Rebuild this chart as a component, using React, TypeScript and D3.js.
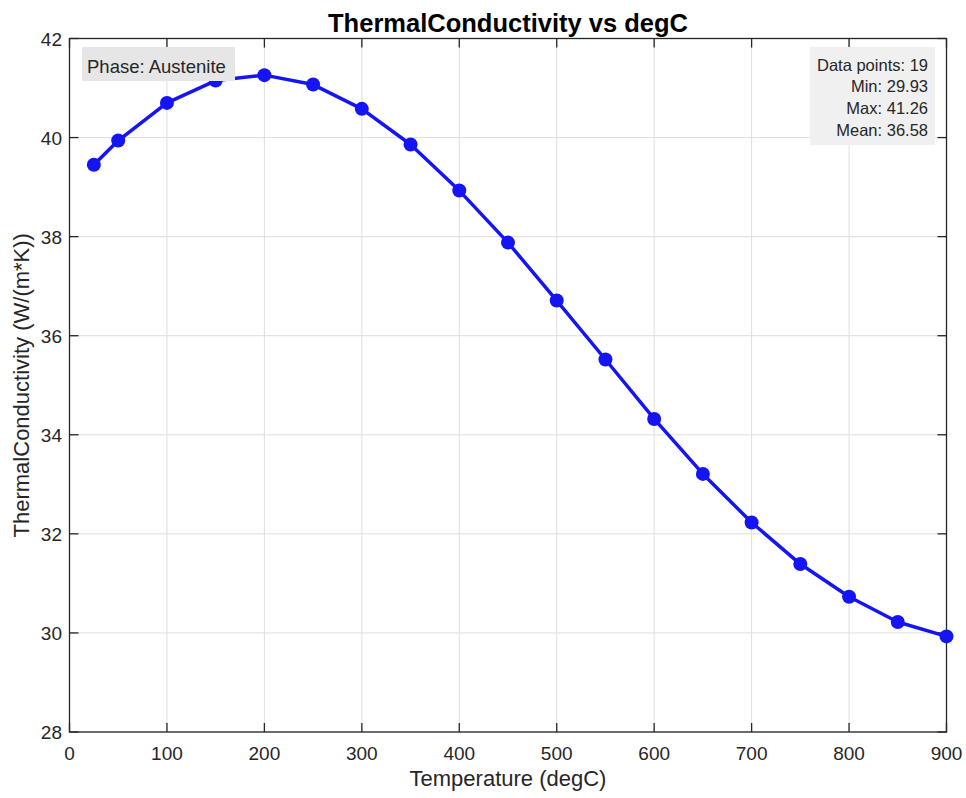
import React from "react";
import * as d3 from "d3";

const temps = [25, 50, 100, 150, 200, 250, 300, 350, 400, 450, 500, 550, 600, 650, 700, 750, 800, 850, 900];
const conductivity = [39.45, 39.94, 40.70, 41.15, 41.26, 41.07, 40.58, 39.86, 38.93, 37.88, 36.71, 35.52, 34.32, 33.21, 32.23, 31.39, 30.73, 30.22, 29.93];
const xTicks = [0, 100, 200, 300, 400, 500, 600, 700, 800, 900];
const yTicks = [28, 30, 32, 34, 36, 38, 40, 42];

const W = 966, H = 798;
const L = 69.5, R = 946.5, T = 38.5, B = 732;
const FONT = "'Liberation Sans', Arial, Helvetica, sans-serif";

export default function App() {
  const x = d3.scaleLinear().domain([0, 900]).range([L, R]);
  const y = d3.scaleLinear().domain([28, 42]).range([B, T]);
  const data = temps.map((t, i) => [t, conductivity[i]] as [number, number]);
  const line = d3.line<[number, number]>().x(d => x(d[0])).y(d => y(d[1]));
  const mn = d3.min(conductivity)!;
  const mx = d3.max(conductivity)!;
  const mean = d3.mean(conductivity)!;
  const stats = [
    `Data points: ${conductivity.length}`,
    `Min: ${mn.toFixed(2)}`,
    `Max: ${mx.toFixed(2)}`,
    `Mean: ${mean.toFixed(2)}`,
  ];
  const axisColor = "#262626";
  return (
    <svg width={W} height={H} style={{ position: "absolute", left: 0, top: 0, background: "#fff" }} fontFamily={FONT}>
      <rect x={0} y={0} width={W} height={H} fill="#fff" />
      {/* grid */}
      {xTicks.map(t => (
        <line key={"gx" + t} x1={x(t)} x2={x(t)} y1={T} y2={B} stroke="#dedede" strokeWidth={1} />
      ))}
      {yTicks.map(t => (
        <line key={"gy" + t} x1={L} x2={R} y1={y(t)} y2={y(t)} stroke="#dedede" strokeWidth={1} />
      ))}
      {/* box */}
      <rect x={L} y={T} width={R - L} height={B - T} fill="none" stroke={axisColor} strokeWidth={1.3} />
      {/* ticks */}
      {xTicks.map(t => (
        <g key={"tx" + t}>
          <line x1={x(t)} x2={x(t)} y1={B} y2={B - 9} stroke={axisColor} strokeWidth={1.3} />
          <line x1={x(t)} x2={x(t)} y1={T} y2={T + 9} stroke={axisColor} strokeWidth={1.3} />
          <text x={x(t)} y={B + 28} textAnchor="middle" fontSize={19} fill={axisColor}>{t}</text>
        </g>
      ))}
      {yTicks.map(t => (
        <g key={"ty" + t}>
          <line x1={L} x2={L + 9} y1={y(t)} y2={y(t)} stroke={axisColor} strokeWidth={1.3} />
          <line x1={R} x2={R - 9} y1={y(t)} y2={y(t)} stroke={axisColor} strokeWidth={1.3} />
          <text x={L - 7.5} y={y(t) + 7} textAnchor="end" fontSize={19} fill={axisColor}>{t}</text>
        </g>
      ))}
      {/* line */}
      <path d={line(data) || ""} fill="none" stroke="#1414f5" strokeWidth={3.5} strokeLinejoin="round" />
      {data.map((d, i) => (
        <circle key={"p" + i} cx={x(d[0])} cy={y(d[1])} r={7} fill="#1414f5" />
      ))}
      {/* phase label */}
      <rect x={82} y={47} width={153} height={34} fill="#e6e6e6" />
      <text x={87} y={72.5} fontSize={18.5} fill={axisColor}>Phase: Austenite</text>
      {/* stats box */}
      <rect x={810} y={47} width={125} height={98} fill="#f0f0f0" />
      {stats.map((s, i) => (
        <text key={"s" + i} x={928} y={70.5 + i * 21.7} textAnchor="end" fontSize={16.5} fill={axisColor}>{s}</text>
      ))}
      {/* title and labels */}
      <text x={(L + R) / 2} y={31.5} textAnchor="middle" fontSize={25.5} fontWeight="bold" fill="#000">ThermalConductivity vs degC</text>
      <text x={(L + R) / 2} y={786} textAnchor="middle" fontSize={22} fill={axisColor}>Temperature (degC)</text>
      <text transform={`translate(29, ${(T + B) / 2}) rotate(-90)`} textAnchor="middle" fontSize={22} fill={axisColor}>ThermalConductivity (W/(m*K))</text>
    </svg>
  );
}
